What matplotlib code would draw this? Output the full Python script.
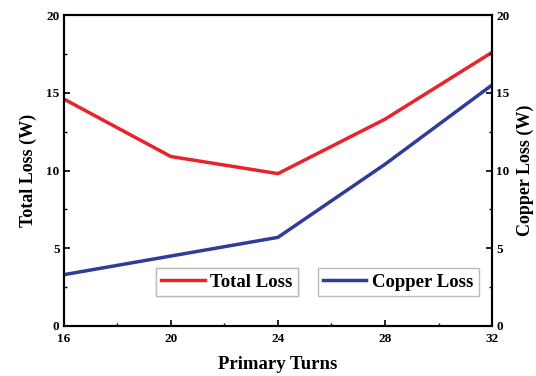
import matplotlib
matplotlib.use('Agg')
import matplotlib.pyplot as plt
from matplotlib.ticker import MultipleLocator
from matplotlib.lines import Line2D

plt.rcParams['font.family'] = 'Liberation Serif'
plt.rcParams['font.weight'] = 'bold'

# Data
turns = [16, 20, 24, 28, 32]
total_loss = [14.6, 10.9, 9.8, 13.3, 17.6]
copper_loss = [3.3, 4.5, 5.7, 10.4, 15.5]

red = '#e8232b'
blue = '#2f3c98'

fig = plt.figure(figsize=(5.36, 3.76), dpi=100)
ax = fig.add_axes([0.119, 0.133, 0.799, 0.827])
ax2 = ax.twinx()

ax.plot(turns, total_loss, color=red, lw=2.5)
ax2.plot(turns, copper_loss, color=blue, lw=2.5)

for a in (ax, ax2):
    a.set_xlim(16, 32)
    a.set_ylim(0, 20)
    a.yaxis.set_major_locator(MultipleLocator(5))
    a.yaxis.set_minor_locator(MultipleLocator(2.5))
    for s in a.spines.values():
        s.set_linewidth(1.5)
ax.xaxis.set_major_locator(MultipleLocator(4))
ax.xaxis.set_minor_locator(MultipleLocator(2))

ax.tick_params(axis='both', which='major', direction='in', length=4, width=1.2,
               labelsize=9.5, pad=3)
ax.tick_params(axis='both', which='minor', direction='in', length=2.5, width=1)
ax.tick_params(axis='x', top=False, which='both', pad=5)
ax2.tick_params(axis='y', which='major', direction='in', length=4, width=1.2,
                labelsize=9.5, pad=3)
ax2.tick_params(axis='y', which='minor', direction='in', length=2.5, width=1)
ax.tick_params(axis='y', right=False, which='both')

for lab in ax.get_xticklabels() + ax.get_yticklabels() + ax2.get_yticklabels():
    lab.set_fontweight('bold')

ax.set_xlabel('Primary Turns', fontsize=13.5, fontweight='bold', labelpad=8)
ax.set_ylabel('Total Loss (W)', fontsize=13, fontweight='bold', labelpad=7)
ax2.set_ylabel('Copper Loss (W)', fontsize=13, fontweight='bold', labelpad=5)

h1 = Line2D([], [], color=red, lw=2.5)
h2 = Line2D([], [], color=blue, lw=2.5)
leg1 = ax.legend([h1], ['Total Loss'], loc='lower left',
                 bbox_to_anchor=(0.215, 0.095), fancybox=False, edgecolor='#bbbbbb',
                 prop={'weight': 'bold', 'size': 13.5}, handlelength=2.3,
                 handletextpad=0.3, borderpad=0.3, borderaxespad=0, framealpha=1)
ax.add_artist(leg1)
ax2.legend([h2], ['Copper Loss'], loc='lower left',
           bbox_to_anchor=(0.593, 0.095), fancybox=False, edgecolor='#bbbbbb',
           prop={'weight': 'bold', 'size': 13.5}, handlelength=2.3,
           handletextpad=0.3, borderpad=0.3, borderaxespad=0, framealpha=1)

fig.savefig('out.png', dpi=100)
